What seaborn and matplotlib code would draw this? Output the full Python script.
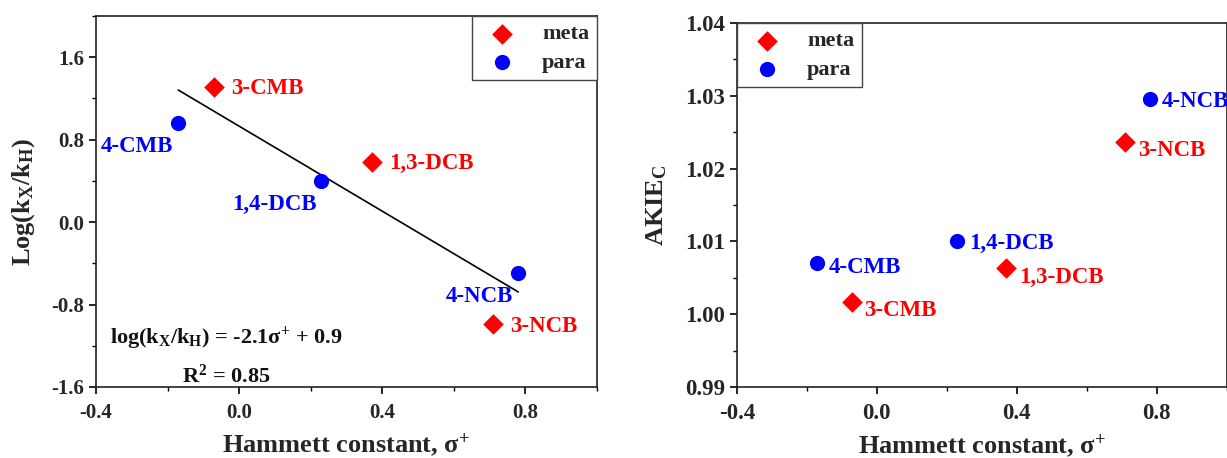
import matplotlib
matplotlib.use("Agg")
import matplotlib.pyplot as plt
import seaborn as sns
import pandas as pd
from matplotlib.ticker import AutoMinorLocator

# ---- data ----
meta_names = ["3-CMB", "1,3-DCB", "3-NCB"]
para_names = ["4-CMB", "1,4-DCB", "4-NCB"]
sigma_meta = [-0.07, 0.37, 0.71]
sigma_para = [-0.17, 0.23, 0.78]
logk_meta = [1.31, 0.58, -0.99]
logk_para = [0.96, 0.40, -0.49]
akie_meta = [1.0017, 1.0063, 1.0237]
akie_para = [1.0071, 1.0100, 1.0295]

x_ticks = [-0.4, 0.0, 0.4, 0.8]
y1_ticks = [-1.6, -0.8, 0.0, 0.8, 1.6]
y2_ticks = [0.99, 1.00, 1.01, 1.02, 1.03, 1.04]

df_meta = pd.DataFrame({"name": meta_names, "sigma": sigma_meta, "logk": logk_meta, "akie": akie_meta})
df_para = pd.DataFrame({"name": para_names, "sigma": sigma_para, "logk": logk_para, "akie": akie_para})
df_all = pd.concat([df_meta, df_para], ignore_index=True)

sns.set_theme(style="ticks")
plt.rcParams["font.family"] = ["Liberation Serif", "DejaVu Serif"]
plt.rcParams["font.weight"] = "bold"
plt.rcParams["axes.labelweight"] = "bold"
plt.rcParams["mathtext.fontset"] = "custom"
plt.rcParams["mathtext.rm"] = "Liberation Serif:bold"
plt.rcParams["mathtext.it"] = "Liberation Serif:italic:bold"
plt.rcParams["mathtext.bf"] = "Liberation Serif:bold"
plt.rcParams["mathtext.default"] = "rm"

RED = "#ff0000"
BLUE = "#0000ff"
LABEL_FS = 19
ANN_FS = 16.5
LEG_FS = 16

fig = plt.figure(figsize=(12.27, 4.58), dpi=100)
ax1 = fig.add_axes([96 / 1227, 71 / 458, 501 / 1227, 371 / 458])
ax2 = fig.add_axes([737 / 1227, 71 / 458, 489.5 / 1227, 364 / 458])


def style_axes(ax, ylim, yticks, tick_fs):
    ax.set_xlim(-0.4, 1.0)
    ax.set_ylim(*ylim)
    ax.set_xticks(x_ticks)
    ax.set_yticks(yticks)
    ax.xaxis.set_minor_locator(AutoMinorLocator(2))
    ax.yaxis.set_minor_locator(AutoMinorLocator(2))
    ax.tick_params(which="major", direction="out", length=5, width=1.2,
                   labelsize=tick_fs, top=False, right=False, color="black")
    ax.tick_params(which="minor", direction="out", length=2.9, width=1.0,
                   top=False, right=False, color="black")
    ax.tick_params(axis="x", which="major", pad=6.5)
    ax.tick_params(axis="y", which="major", pad=3.6)
    for sp in ax.spines.values():
        sp.set_visible(True)
        sp.set_linewidth(1.2)
        sp.set_color("#222222")


# ---- left panel ----
sns.regplot(data=df_all, x="sigma", y="logk", scatter=False, ci=None, ax=ax1,
            color="black", truncate=True, line_kws={"linewidth": 1.2})
sns.scatterplot(data=df_meta, x="sigma", y="logk", ax=ax1, marker="D", s=110,
                color=RED, linewidth=0, label="meta", zorder=3)
sns.scatterplot(data=df_para, x="sigma", y="logk", ax=ax1, marker="o", s=120,
                color=BLUE, linewidth=0, label="para", zorder=3)
style_axes(ax1, (-1.6, 2.0), y1_ticks, 15)
ax1.set_yticklabels([f"{v:.1f}" for v in y1_ticks], fontweight="bold")
ax1.set_xticklabels([f"{v:.1f}" for v in x_ticks], fontweight="bold")
ax1.set_xlabel("Hammett constant, σ$^{+}$", fontsize=LABEL_FS, fontweight="bold", labelpad=6)
ax1.set_ylabel("Log(k$_{X}$/k$_{H}$)", fontsize=LABEL_FS, fontweight="bold")
ax1.yaxis.set_label_coords(-0.118, 0.5)

px = 0.72  # points per pixel
left_offsets = {
    "3-CMB": ((17, 1), "left"),
    "1,3-DCB": ((18, 1), "left"),
    "3-NCB": ((17, 0), "left"),
    "4-CMB": ((-5, -21), "right"),
    "1,4-DCB": ((-5, -21), "right"),
    "4-NCB": ((-5, -21), "right"),
}
for df, col in ((df_meta, RED), (df_para, BLUE)):
    for _, r in df.iterrows():
        (dx, dy), ha = left_offsets[r["name"]]
        ax1.annotate(r["name"], (r["sigma"], r["logk"]), xytext=(dx * px, dy * px),
                     textcoords="offset points", ha=ha, va="center_baseline",
                     color=col, fontsize=ANN_FS, fontweight="bold")

ax1.text(-0.036, -1.18, "log(k$_{X}$/k$_{H}$) = -2.1σ$^{+}$ + 0.9", ha="center",
         va="baseline", fontsize=16, fontweight="bold", color="#111111")
ax1.text(-0.036, -1.56, "R$^{2}$ = 0.85", ha="center", va="baseline",
         fontsize=16, fontweight="bold", color="#111111")

leg1 = ax1.legend(loc="upper right", borderaxespad=0, fontsize=LEG_FS, frameon=True,
                  fancybox=False, framealpha=1, edgecolor="#444444",
                  labelspacing=0.35, handletextpad=0.8, borderpad=0.35)
leg1.get_frame().set_linewidth(1.0)
for t in leg1.get_texts():
    t.set_fontweight("bold")

# ---- right panel ----
sns.scatterplot(data=df_meta, x="sigma", y="akie", ax=ax2, marker="D", s=110,
                color=RED, linewidth=0, label="meta", zorder=3)
sns.scatterplot(data=df_para, x="sigma", y="akie", ax=ax2, marker="o", s=120,
                color=BLUE, linewidth=0, label="para", zorder=3)
style_axes(ax2, (0.99, 1.04), y2_ticks, 16.5)
ax2.set_yticklabels([f"{v:.2f}" for v in y2_ticks], fontweight="bold")
ax2.set_xticklabels([f"{v:.1f}" for v in x_ticks], fontweight="bold")
ax2.set_xlabel("Hammett constant, σ$^{+}$", fontsize=LABEL_FS, fontweight="bold", labelpad=6)
ax2.set_ylabel("AKIE$_{C}$", fontsize=LABEL_FS, fontweight="bold")
ax2.yaxis.set_label_coords(-0.139, 0.5)

right_offsets = {
    "3-CMB": (12, -6),
    "1,3-DCB": (13, -7),
    "3-NCB": (13, -6),
    "4-CMB": (11, -2),
    "1,4-DCB": (12, 0),
    "4-NCB": (12, 0),
}
for df, col in ((df_meta, RED), (df_para, BLUE)):
    for _, r in df.iterrows():
        dx, dy = right_offsets[r["name"]]
        ax2.annotate(r["name"], (r["sigma"], r["akie"]), xytext=(dx * px, dy * px),
                     textcoords="offset points", ha="left", va="center_baseline",
                     color=col, fontsize=ANN_FS, fontweight="bold", annotation_clip=False)

leg2 = ax2.legend(loc="upper left", borderaxespad=0, fontsize=LEG_FS, frameon=True,
                  fancybox=False, framealpha=1, edgecolor="#444444",
                  labelspacing=0.35, handletextpad=0.8, borderpad=0.35)
leg2.get_frame().set_linewidth(1.0)
for t in leg2.get_texts():
    t.set_fontweight("bold")

fig.savefig("out.png", dpi=100)
